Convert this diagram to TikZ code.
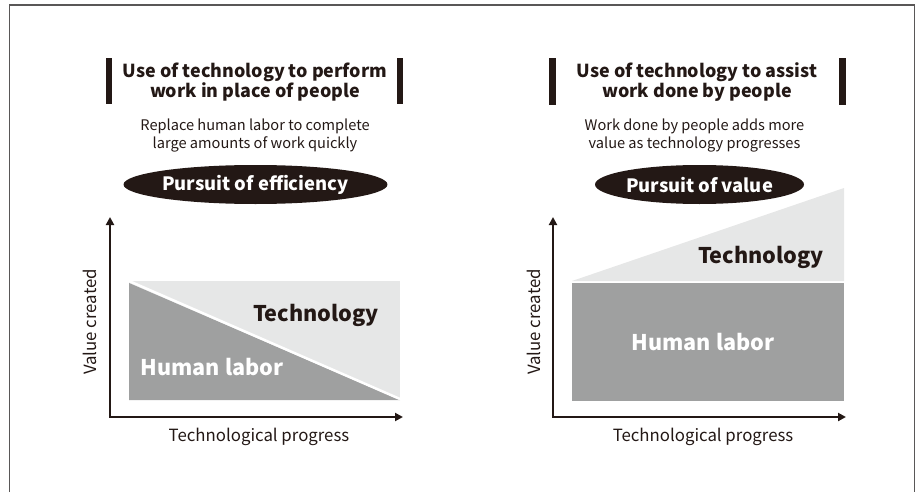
\documentclass[tikz,border=0pt]{standalone}
\usepackage{fontspec}
\setmainfont{Noto Sans CJK JP}
\usetikzlibrary{arrows.meta,shapes.geometric}
\definecolor{ink}{HTML}{231815}
\definecolor{labor}{HTML}{9FA0A0}
\definecolor{techgray}{HTML}{E6E7E7}
\definecolor{framegray}{HTML}{595757}
\tikzset{
  heading/.style={font=\bfseries\fontsize{17.9}{20.5}\selectfont, text=ink, align=center},
  note/.style={font=\fontsize{14.6}{18}\selectfont, text=ink, align=center},
  pursuit/.style={ellipse, fill=ink, text=white, inner sep=0pt, minimum height=39pt,
    font=\bfseries\fontsize{18.4}{20}\selectfont},
  axis/.style={line width=2pt, draw=ink, line join=miter,
    {Triangle[length=8pt,width=8pt]}-{Triangle[length=8pt,width=8pt]}},
  axislabel/.style={font=\fontsize{16.8}{18}\selectfont, text=ink},
  biglabel/.style={font=\bfseries\fontsize{21.6}{24}\selectfont},
  headbar/.style={fill=ink}
}
\begin{document}
\begin{tikzpicture}[x=1pt,y=-1pt]
\useasboundingbox (0,0) rectangle (917,492);
\draw[framegray, line width=1.2pt] (9.5,492) -- (9.5,5) -- (914.5,5) -- (914.5,492);

\fill[headbar] (106,58) rectangle (112,104);
\fill[headbar] (397,58) rectangle (403,104);
\node[heading] (lhead) at (255,82) {Use of technology to perform\\work in place of people};
\node[note] (lnote) at (255,136) {Replace human labor to complete\\large amounts of work quickly};
\node[pursuit, minimum width=249pt] (lgoal) at (255.5,184.5) {Pursuit of efficiency};

\fill[techgray] (129,281) rectangle (400,400);
\fill[labor] (129,283) -- (400,400) -- (129,400) -- cycle;
\draw[white, line width=2.5pt] (129,281) -- (400,399);
\node[biglabel, text=ink] (ltech) at (316,315) {Technology};
\node[biglabel, text=white] (llabor) at (212,367) {Human labor};

\coordinate (lytip) at (110,217);
\coordinate (lxtip) at (403,417);
\draw[axis] (lytip) |- (lxtip);
\node[axislabel, rotate=90] (lyname) at (90,322) {Value created};
\node[axislabel] (lxname) at (259,437) {Technological progress};

\fill[headbar] (549,58) rectangle (556,105);
\fill[headbar] (839,58) rectangle (846,105);
\node[heading] (rhead) at (697,82) {Use of technology to assist\\work done by people};
\node[note] (rnote) at (694.5,136) {Work done by people adds more\\value as technology progresses};
\node[pursuit, minimum width=209pt] (rgoal) at (699.5,184.5) {Pursuit of value};

\fill[techgray] (572,281) -- (844,188) -- (844,281) -- cycle;
\fill[labor] (572,283) rectangle (844,401);
\node[biglabel, text=ink] (rtech) at (761,257) {Technology};
\node[biglabel, text=white] (rlabor) at (703,342) {Human labor};

\coordinate (rytip) at (553,217);
\coordinate (rxtip) at (846,417);
\draw[axis] (rytip) |- (rxtip);
\node[axislabel, rotate=90] (ryname) at (534,322) {Value created};
\node[axislabel] (rxname) at (703,437) {Technological progress};
\end{tikzpicture}
\end{document}
